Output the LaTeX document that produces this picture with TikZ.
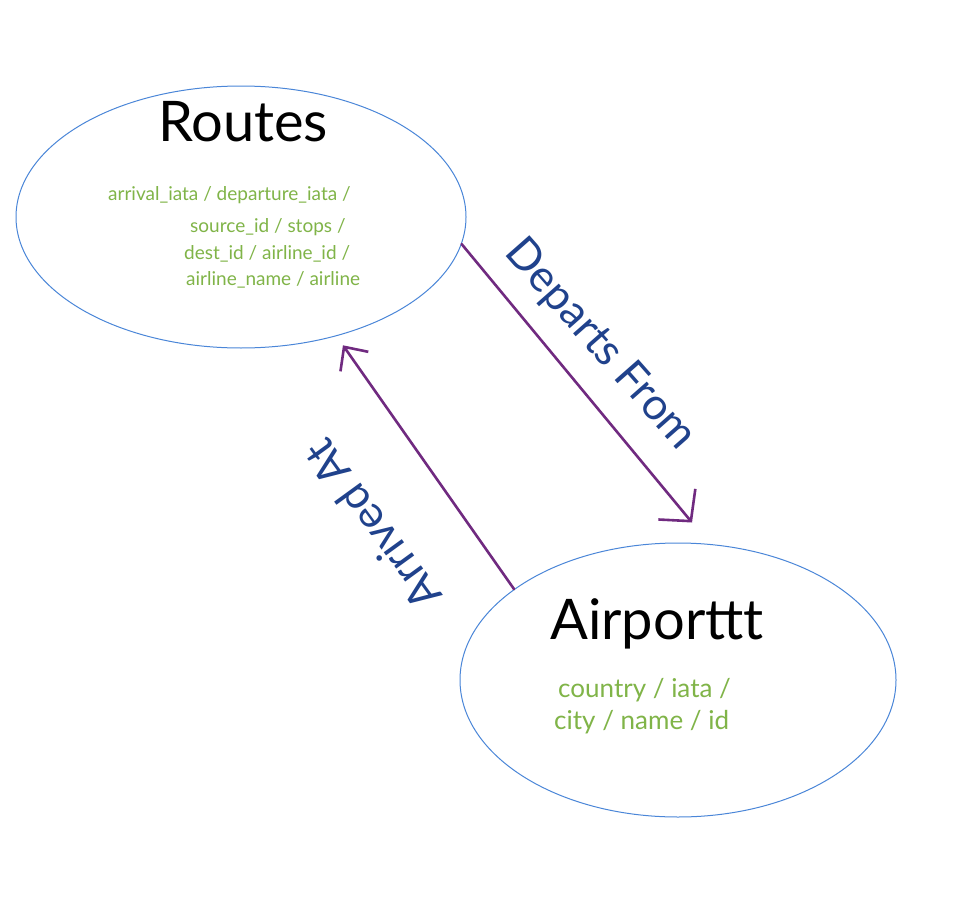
\documentclass[tikz,border=0pt]{standalone}
\usepackage{fontspec}
\setmainfont{Lato}
\usetikzlibrary{arrows.meta,shapes.geometric}
\definecolor{ellblue}{RGB}{74,134,216}
\definecolor{attrgreen}{RGB}{128,180,72}
\definecolor{arrowpurple}{RGB}{112,42,128}
\definecolor{labelblue}{RGB}{32,66,140}
\begin{document}
\begin{tikzpicture}[x=1pt,y=-1pt,
  entity/.style={ellipse, draw=ellblue, line width=1pt, inner sep=0pt},
  title/.style={text=black, font=\fontsize{56}{64}\selectfont, inner sep=0pt},
  attr/.style={text=attrgreen, font=\fontsize{19}{22}\selectfont, inner sep=0pt, anchor=west},
  attrbig/.style={text=attrgreen, font=\fontsize{26}{30}\selectfont, inner sep=0pt, anchor=west},
  rel/.style={draw=arrowpurple, line width=2.6pt, line cap=round, line join=round},
  rellabel/.style={text=labelblue, font=\fontsize{44}{50}\selectfont, inner sep=0pt}
]
\useasboundingbox (0,0) rectangle (977,899);
\fill[white] (0,0) rectangle (977,899);

% entities
\node[entity, minimum width=450pt, minimum height=262pt] (routes) at (241,217) {};
\node[entity, minimum width=436pt, minimum height=274pt] (airport) at (678,680) {};

% titles
\node[title] (routestitle) at (243,122) {Routes};
\node[title] (airporttitle) at (657,624) {Airporttt};

% attributes of Routes
\node[attr] (ra1) at (108,195) {arrival\_iata / departure\_iata /};
\node[attr] (ra2) at (190,227) {source\_id / stops /};
\node[attr] (ra3) at (184,254) {dest\_id / airline\_id /};
\node[attr] (ra4) at (186,280) {airline\_name / airline};

% attributes of Airport
\node[attrbig] (aa1) at (558,690) {country / iata /};
\node[attrbig] (aa2) at (554,722) {city / name / id};

% relationships
\draw[rel, -{Straight Barb[length=22pt,width=48pt,line width=2.6pt]}]
  (routes.-7.5) -- ([xshift=14pt,yshift=20pt]airport.north);
\draw[rel, -{Straight Barb[length=18pt,width=34pt,line width=2.6pt]}]
  (airport.151) -- ([yshift=-11pt]routes.-49);

\node[rellabel, rotate=-48.6] (departs) at (600,345) {Departs From};
\node[rellabel, rotate=126] (arrived) at (372,525) {Arrived At};
\end{tikzpicture}
\end{document}
